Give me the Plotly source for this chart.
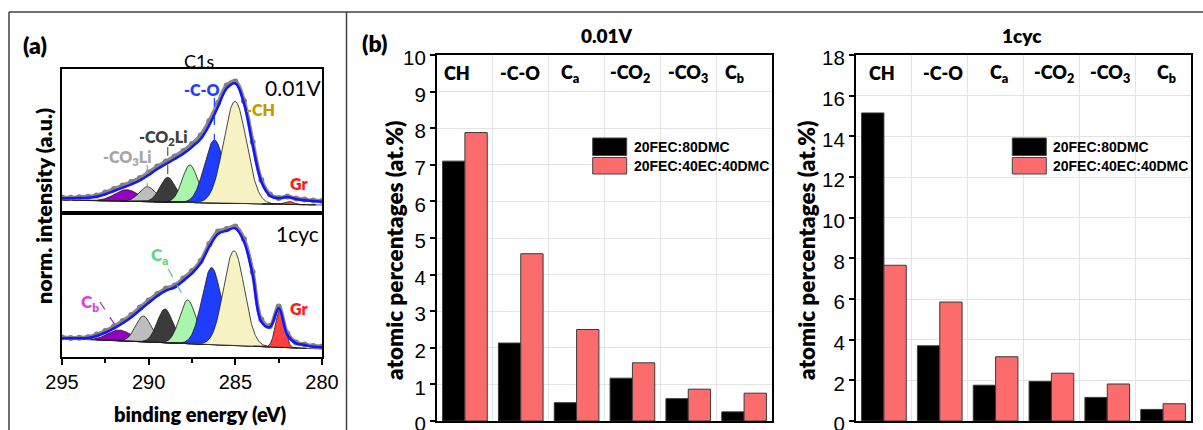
import numpy as np
import plotly.graph_objects as go

W, H = 1203, 430

# ---------------- (a) C1s spectra ----------------
# binding-energy sampling of the measured spectra (eV)
energy = np.arange(295.0, 279.99, -0.5)

# measured points and fit envelope, normalised intensity (a.u.)
c1s_001v_meas = [15.5, 15.2, 15.8, 16.2, 17.5, 20.5, 24.0, 27.5, 31.0, 35.0, 40.5,
                 46.5, 51.5, 56.5, 62.0, 69.0, 77.5, 92.0, 110.0, 127.5, 131.5,
                 112.0, 71.0, 33.0, 18.5, 15.0, 16.5, 14.5, 13.5, 12.5, 12.0]
c1s_001v_fit = [14.7, 14.7, 15.0, 15.3, 16.3, 18.7, 22.0, 25.3, 28.7, 32.7, 38.0,
                44.0, 49.0, 54.0, 59.3, 66.0, 74.0, 88.0, 106.3, 124.7, 129.7,
                109.7, 68.0, 31.3, 17.3, 14.7, 16.0, 14.0, 12.7, 12.0, 11.3]
c1s_1cyc_meas = [19.5, 19.0, 19.3, 19.8, 22.5, 26.0, 30.5, 36.0, 42.0, 49.5, 56.5,
                 63.0, 68.5, 71.5, 78.5, 86.0, 96.0, 113.0, 125.5, 128.0, 130.5,
                 118.0, 85.0, 37.5, 31.0, 50.5, 23.5, 14.5, 12.5, 11.0, 10.5]
c1s_1cyc_fit = [18.7, 18.7, 18.7, 19.0, 21.0, 24.3, 28.7, 33.7, 39.7, 47.0, 54.3,
                61.0, 66.3, 69.7, 76.3, 83.7, 93.7, 110.3, 123.0, 126.3, 128.7,
                115.3, 82.0, 35.3, 29.7, 48.7, 22.0, 13.7, 12.0, 10.3, 9.7]

# linear background: value at 295 eV and at 280 eV
bg_001v = [13.0, 8.0]
bg_1cyc = [18.5, 8.0]

# fitted components: C_b, -CO3Li, -CO2Li, C_a, -C-O, -CH, Gr
comp_colors = ["#9300C4", "#BDBDBD", "#3B3B3B", "#A9F5AC", "#1F3DFF", "#F6F2C3", "#FF4040"]
comp_center_001v = [291.27, 290.08, 288.90, 287.62, 286.21, 285.02, 281.90]
comp_height_001v = [11.6, 15.0, 24.7, 37.5, 63.0, 102.0, 3.0]
comp_fwhm_001v = [1.60, 1.10, 1.05, 1.05, 1.35, 1.55, 0.60]
comp_center_1cyc = [291.69, 290.31, 289.06, 287.75, 286.37, 285.08, 282.42]
comp_height_1cyc = [10.8, 25.8, 33.7, 43.6, 77.0, 94.7, 38.5]
comp_fwhm_1cyc = [1.55, 1.05, 1.05, 1.10, 1.30, 1.40, 0.60]

# ---------------- (b) atomic percentages ----------------
groups = ["CH", "-C-O", "C<sub>a</sub>", "-CO<sub>2</sub>", "-CO<sub>3</sub>", "C<sub>b</sub>"]
series_names = ["20FEC:80DMC", "20FEC:40EC:40DMC"]
at_001v_fec_dmc = [7.10, 2.13, 0.50, 1.17, 0.61, 0.25]
at_001v_fec_ec_dmc = [7.88, 4.57, 2.50, 1.59, 0.87, 0.76]
at_1cyc_fec_dmc = [15.15, 3.70, 1.76, 1.95, 1.16, 0.57]
at_1cyc_fec_ec_dmc = [7.66, 5.85, 3.16, 2.35, 1.82, 0.85]
series_colors = ["#000000", "#FC6C6C"]

# horizontal nudges (px) of the group labels written inside each bar panel
label_nudge_left = [-8, -1, -7, -2, 0, -10]
label_nudge_right = [-2, 3, 3, 3, 3, 3]


def fx(p):
    return p / W


def fy(p):
    return 1 - p / H


fig = go.Figure()


def add_spectrum(xa, ya, meas, fit, bg, centers, heights, fwhms):
    e_fine = np.linspace(295, 280, 751)
    bg_fine = bg[0] + (bg[1] - bg[0]) * (295 - e_fine) / 15.0
    fig.add_trace(go.Scatter(x=[295, 280], y=bg, mode="lines",
                             line=dict(color="#555555", width=1.2),
                             xaxis=xa, yaxis=ya, showlegend=False, hoverinfo="skip"))
    for c, h, w, col in zip(centers, heights, fwhms, comp_colors):
        m = np.abs(e_fine - c) < 2.6 * w
        e = e_fine[m]
        b = bg_fine[m]
        g = h * np.exp(-4 * np.log(2) * ((e - c) / w) ** 2)
        fig.add_trace(go.Scatter(
            x=np.concatenate([e, e[::-1]]), y=np.concatenate([b + g, b[::-1]]),
            mode="lines", fill="toself", fillcolor=col,
            line=dict(color="#1a1a1a", width=0.8),
            xaxis=xa, yaxis=ya, showlegend=False, hoverinfo="skip"))
    fig.add_trace(go.Scatter(x=energy, y=meas, mode="lines+markers",
                             line=dict(color="#8A8A8A", width=4, shape="spline"),
                             marker=dict(color="#808080", size=6),
                             xaxis=xa, yaxis=ya, showlegend=False))
    fig.add_trace(go.Scatter(x=energy, y=fit, mode="lines",
                             line=dict(color="#1414FF", width=2.5, shape="spline"),
                             xaxis=xa, yaxis=ya, showlegend=False))


add_spectrum("x", "y", c1s_001v_meas, c1s_001v_fit, bg_001v,
             comp_center_001v, comp_height_001v, comp_fwhm_001v)
add_spectrum("x2", "y2", c1s_1cyc_meas, c1s_1cyc_fit, bg_1cyc,
             comp_center_1cyc, comp_height_1cyc, comp_fwhm_1cyc)

# bars
for xa, ya, vals in (("x3", "y3", (at_001v_fec_dmc, at_001v_fec_ec_dmc)),
                     ("x4", "y4", (at_1cyc_fec_dmc, at_1cyc_fec_ec_dmc))):
    for name, v, col in zip(series_names, vals, series_colors):
        fig.add_trace(go.Bar(x=groups, y=v, name=name, marker_color=col,
                             marker_line=dict(color="#3a3a3a", width=1),
                             xaxis=xa, yaxis=ya, showlegend=False))

frame = dict(showline=True, mirror=True, linecolor="black", linewidth=2,
             zeroline=False, automargin=False)
spec_x = dict(range=[295, 280], showgrid=False, **frame)
spec_y = dict(range=[0, 144], showgrid=False, showticklabels=False, ticks="", **frame)
tick_font = dict(family="Liberation Sans, Arial", size=20.5, color="black")

bar_x = dict(type="category", tickson="boundaries", showticklabels=False, ticks="",
             showgrid=True, gridcolor="#E4E4E4", gridwidth=1, **frame)
bar_y = dict(ticks="outside", ticklen=5, tickwidth=1.5, tickcolor="black",
             tickfont=tick_font, ticklabeloverflow="allow", ticklabelshift=3,
             showgrid=True, gridcolor="#E4E4E4", gridwidth=1, **frame)

fig.update_layout(
    width=W, height=H, margin=dict(l=0, r=0, t=0, b=0, pad=0, autoexpand=False),
    paper_bgcolor="white", plot_bgcolor="white",
    barmode="group", bargap=0.2, bargroupgap=0,
    xaxis=dict(domain=[fx(62), fx(322)], anchor="y", showticklabels=False, ticks="", **spec_x),
    yaxis=dict(domain=[fy(213), fy(69)], anchor="x", **spec_y),
    xaxis2=dict(domain=[fx(62), fx(322)], anchor="y2", tick0=280, dtick=5,
                ticks="outside", ticklen=6, tickwidth=1.5, tickcolor="black",
                minor=dict(dtick=2.5, tick0=280, ticks="outside", ticklen=4,
                           tickwidth=1.5, tickcolor="black"),
                tickfont=dict(family="Liberation Sans, Arial", size=20, color="black"),
                ticklabeloverflow="allow", **spec_x),
    yaxis2=dict(domain=[fy(357), fy(213)], anchor="x2", **spec_y),
    xaxis3=dict(domain=[fx(437), fx(772)], anchor="y3", **bar_x),
    yaxis3=dict(domain=[fy(421), fy(55)], anchor="x3", range=[0, 10], dtick=1, **bar_y),
    xaxis4=dict(domain=[fx(856), fx(1191)], anchor="y4", **bar_x),
    yaxis4=dict(domain=[fy(421), fy(55)], anchor="x4", range=[0, 18], dtick=2, **bar_y),
)

shapes = []
# panel frame
for x0, y0, x1, y1 in ((9, 12, W, 12), (9, 12, 9, H), (346.5, 12, 346.5, H)):
    shapes.append(dict(type="line", xref="paper", yref="paper",
                       x0=fx(x0), y0=fy(y0), x1=fx(x1), y1=fy(y1),
                       line=dict(color="#404040", width=1.5)))

# dashed pointers to the components
pointers = [
    ("x", "y", 286.21, 115, 286.21, 58, "#1F3DFF"),
    ("x", "y", 288.90, 66, 288.90, 36, "#555555"),
    ("x", "y", 290.08, 48, 290.08, 26, "#A0A0A0"),
    ("x2", "y2", 288.87, 88, 287.85, 56, "#5CCB7C"),
    ("x2", "y2", 292.81, 55, 291.94, 32, "#8E2DB8"),
]
for xa, ya, x0, y0, x1, y1, col in pointers:
    shapes.append(dict(type="line", xref=xa, yref=ya, x0=x0, y0=y0, x1=x1, y1=y1,
                       line=dict(color=col, width=1.2, dash="dash")))

# legend swatches
for lx in (592.7, 1012.3):
    for (t, b), col in zip(((138, 155.5), (157.5, 174)), series_colors):
        shapes.append(dict(type="rect", xref="paper", yref="paper",
                           x0=fx(lx), x1=fx(lx + 34), y0=fy(b), y1=fy(t),
                           fillcolor=col, line=dict(color="#444444", width=1)))
fig.update_layout(shapes=shapes)

ann = []


def text(x, y, s, size, color="black", weight="normal", family="Lato", xref="paper",
         yref="paper", angle=0, xanchor="center", xshift=0):
    if xref == "paper":
        x = fx(x)
    if yref == "paper":
        y = fy(y)
    ann.append(dict(x=x, y=y, xref=xref, yref=yref, text=s, showarrow=False,
                    textangle=angle, xanchor=xanchor, yanchor="middle", xshift=xshift,
                    font=dict(family=family, size=size, color=color, weight=weight)))


B = 800
text(34.5, 45, "(a)", 23, weight=B)
text(375, 43, "(b)", 23, weight=B)
text(199, 61, "C1s", 18)
text(44, 206, "norm. intensity (a.u.)", 21.5, weight=B, angle=-90)
text(200, 414, "binding energy (eV)", 20, weight=B)

text(281.67, 126, "0.01V", 21, xref="x", yref="y")
text(286.9, 124, "-C-O", 16, color="#1F3DFF", weight=B, xref="x", yref="y")
text(283.55, 104, "-CH", 16, color="#C49A00", weight=B, xref="x", yref="y")
text(289.2, 76, "-CO<sub>2</sub>Li", 16, color="#404040", weight=B, xref="x", yref="y")
text(291.23, 56, "-CO<sub>3</sub>Li", 16, color="#A6A6A6", weight=B, xref="x", yref="y")
text(281.35, 30, "Gr", 16, color="#FF1A1A", weight=B, xref="x", yref="y")

text(281.41, 124, "1cyc", 21, xref="x2", yref="y2")
text(289.35, 101, "C<sub>a</sub>", 17, color="#62D786", weight=B, xref="x2", yref="y2")
text(293.41, 54, "C<sub>b</sub>", 17, color="#D845D8", weight=B, xref="x2", yref="y2")
text(281.35, 49, "Gr", 16, color="#FF1A1A", weight=B, xref="x2", yref="y2")

text(607, 35, "0.01V", 19, weight=B)
text(1022, 35, "1cyc", 19, weight=B)
text(394, 251, "atomic percentages (at.%)", 22.5, weight=B, angle=-90)
text(806, 251, "atomic percentages (at.%)", 22.5, weight=B, angle=-90)

for xa, nudges in (("x3", label_nudge_left), ("x4", label_nudge_right)):
    for g, dx in zip(groups, nudges):
        text(g, 73, g, 18, weight=B, xref=xa, xshift=dx)

for lx in (631.5, 1050.5):
    for yy, name in zip((147, 166), series_names):
        text(lx, yy, name, 14, weight="bold", family="Liberation Sans, Arial",
             xanchor="left")

fig.update_layout(annotations=ann)
# the figure fills the whole page, so drop the default body margin
fig.write_html("out.html",
               post_script="document.body.style.margin='0';"
                           "document.body.style.overflow='hidden';")
